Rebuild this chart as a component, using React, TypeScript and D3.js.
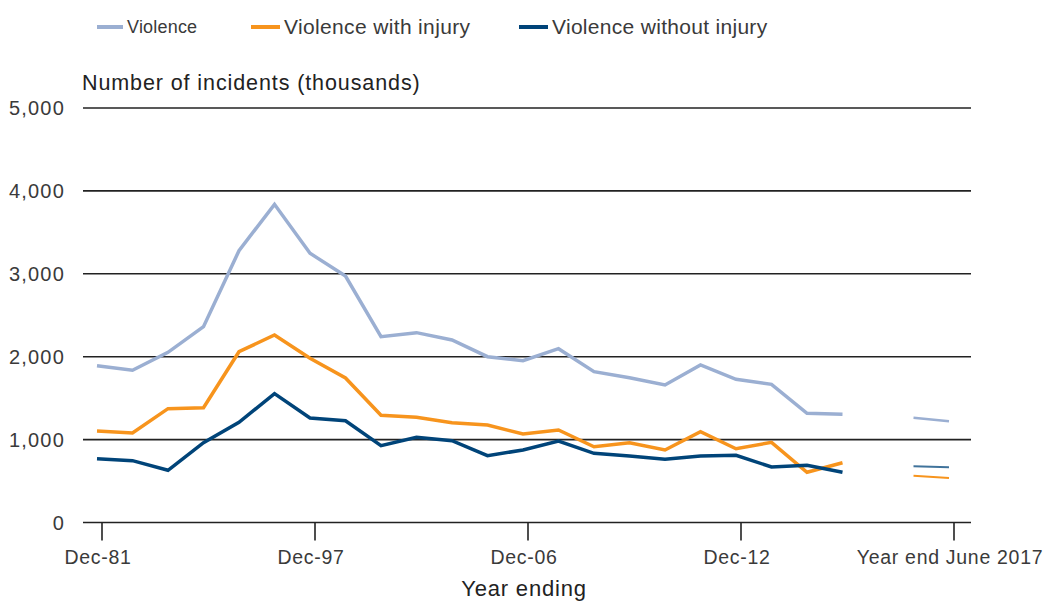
import React from 'react';
import * as d3 from 'd3';

// 25 survey periods; only a few are labelled on the axis
const categories = [
  'Dec-81', 'Dec-83', 'Dec-87', 'Dec-91', 'Dec-93', 'Dec-95', 'Dec-97', 'Dec-99',
  'Dec-01', 'Dec-02', 'Dec-03', 'Dec-04', 'Dec-06', 'Dec-07', 'Dec-08', 'Dec-09',
  'Dec-10', 'Dec-11', 'Dec-12', 'Dec-13', 'Dec-14', 'Dec-15', 'gap',
  'Year end June 2016', 'Year end June 2017',
];
const tickLabels = ['Dec-81', 'Dec-97', 'Dec-06', 'Dec-12', 'Year end June 2017'];

const violence = [
  1890, 1836, 2053, 2362, 3279, 3838, 3247, 2973, 2241, 2290, 2201, 2000, 1952,
  2097, 1819, 1747, 1659, 1900, 1727, 1667, 1317, 1305,
];
const withInjury = [
  1104, 1080, 1373, 1385, 2060, 2262, 1981, 1743, 1293, 1269, 1204, 1176, 1068,
  1116, 914, 963, 875, 1095, 890, 967, 606, 721,
];
const withoutInjury = [
  770, 746, 630, 963, 1209, 1554, 1261, 1228, 926, 1028, 987, 806, 875, 983, 835,
  802, 762, 802, 811, 670, 690, 606,
];

// separate, newer estimates drawn as thin segments at the right
const recentCats = ['Year end June 2016', 'Year end June 2017'];
const violenceRecent = [1264, 1221];
const withInjuryRecent = [565, 537];
const withoutInjuryRecent = [678, 666];

const yTicks = [0, 1000, 2000, 3000, 4000, 5000];

const COLORS = { violence: '#9bafd2', with: '#f7941d', without: '#004479' };
const FONT = '"Liberation Sans", Arial, sans-serif';
const TEXT = '#3a3a3a';

export default function App() {
  const width = 1046;
  const height = 601;
  const plotLeft = 83;
  const plotRight = 971;

  const x = d3.scalePoint<string>().domain(categories).range([97, 949]);
  const y = d3.scaleLinear().domain([0, 5000]).range([522.5, 108]);

  const line = d3.line<[string, number]>()
    .x(d => x(d[0]) as number)
    .y(d => y(d[1]));

  const main = (vals: number[]) => line(vals.map((v, i) => [categories[i], v]));
  const recent = (vals: number[]) => line(vals.map((v, i) => [recentCats[i], v]));

  const series = [
    { key: 'violence', vals: violence, rec: violenceRecent, color: COLORS.violence, rw: 2.5 },
    { key: 'with', vals: withInjury, rec: withInjuryRecent, color: COLORS.with, rw: 2 },
    { key: 'without', vals: withoutInjury, rec: withoutInjuryRecent, color: COLORS.without, rw: 2 },
  ];

  const legend = [
    { label: 'Violence', color: COLORS.violence, x: 97, w: 26, size: 18, ls: 0.2 },
    { label: 'Violence with injury', color: COLORS.with, x: 251, w: 29, size: 21, ls: 0.35 },
    { label: 'Violence without injury', color: COLORS.without, x: 519, w: 29, size: 21, ls: 0.3 },
  ];

  const tickOffset = 5;

  return (
    <svg width={width} height={height} style={{ position: 'absolute', left: 0, top: 0 }}
      fontFamily={FONT}>
      <rect width={width} height={height} fill="#fff" />

      {legend.map(l => (
        <g key={l.label}>
          <line x1={l.x} x2={l.x + l.w} y1={27} y2={27} stroke={l.color} strokeWidth={4} />
          <text x={l.x + l.w + 4} y={27} dy="0.35em" fontSize={l.size} fill={TEXT}
            letterSpacing={l.ls}>{l.label}</text>
        </g>
      ))}

      <text x={82} y={82} dy="0.35em" fontSize={21.5} fill="#222" letterSpacing={0.9}>
        Number of incidents (thousands)
      </text>

      {yTicks.map(t => (
        <g key={t}>
          <line x1={plotLeft} x2={plotRight} y1={y(t)} y2={y(t)} stroke="#222" strokeWidth={1.6} />
          <text x={65} y={y(t)} dy="0.35em" textAnchor="end" fontSize={20} fill={TEXT}
            letterSpacing={1.2}>
            {d3.format(',')(t)}
          </text>
        </g>
      ))}

      {tickLabels.map(c => {
        const px = (x(c) as number) + tickOffset;
        return (
          <g key={c}>
            <line x1={px} x2={px} y1={y(0)} y2={y(0) + 18} stroke="#222" strokeWidth={1.6} />
            <text x={c === tickLabels[tickLabels.length - 1] ? px - 4 : px - 4} y={557} dy="0.35em"
              textAnchor="middle" fontSize={19.5} fill={TEXT} letterSpacing={0.7}>{c}</text>
          </g>
        );
      })}

      <text x={524} y={588} dy="0.35em" textAnchor="middle" fontSize={22} fill="#222"
        letterSpacing={0.8}>Year ending</text>

      {series.map(s => (
        <g key={s.key}>
          <path d={main(s.vals) || ''} fill="none" stroke={s.color} strokeWidth={3.5}
            strokeLinejoin="miter" />
          <path d={recent(s.rec) || ''} fill="none" stroke={s.color} strokeWidth={s.rw}
            opacity={s.key === 'without' ? 0.75 : 1} />
        </g>
      ))}
    </svg>
  );
}
